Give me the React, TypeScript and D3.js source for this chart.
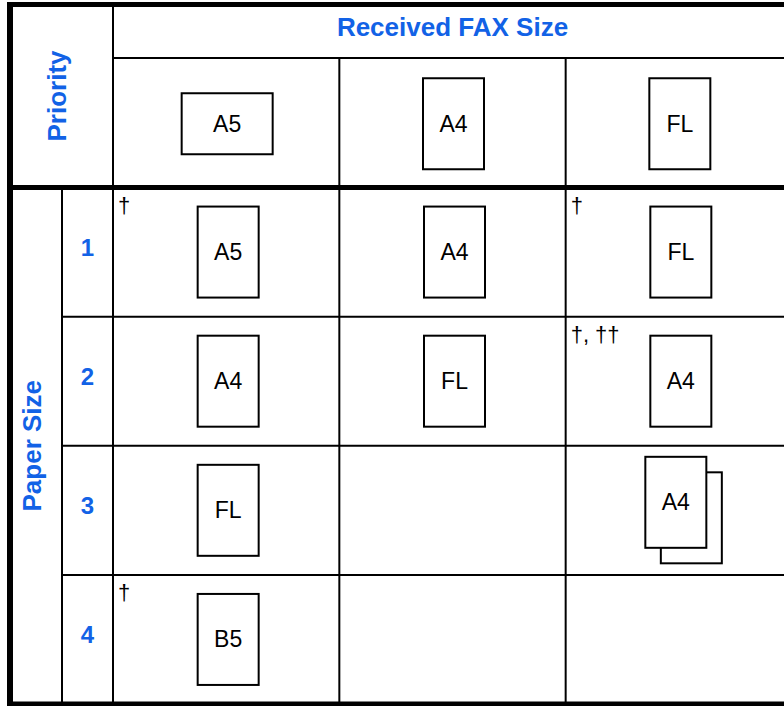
import React from 'react';
import * as d3 from 'd3';

// Received FAX size (columns) and paper priority (rows)
const faxSizes = ['A5', 'A4', 'FL'];
const priorities = ['1', '2', '3', '4'];

// paper used for each priority / fax size; '' = none, 'A4x2' = two sheets
const paperRow1 = ['A5', 'A4', 'FL'];
const paperRow2 = ['A4', 'FL', 'A4'];
const paperRow3 = ['FL', '', 'A4x2'];
const paperRow4 = ['B5', '', ''];
const paperGrid = [paperRow1, paperRow2, paperRow3, paperRow4];

// footnote marks per cell
const noteRow1 = ['†', '', '†'];
const noteRow2 = ['', '', '†, ††'];
const noteRow3 = ['', '', ''];
const noteRow4 = ['†', '', ''];
const noteGrid = [noteRow1, noteRow2, noteRow3, noteRow4];

const W = 784;
const H = 706;
const BLUE = '#1262e6';
const FONT = '"Liberation Sans", Arial, Helvetica, sans-serif';

const App = () => {
  const x = d3.scaleBand<string>().domain(faxSizes).range([113, 792]);
  const y = d3.scaleBand<string>().domain(priorities).range([187.5, 704]);

  const headTop = 4.5;
  const headMid = 58;
  const headBottom = 187.5;
  const leftEdge = 10;
  const numCol = 62;

  const cx = (s: string) => (x(s) as number) + x.bandwidth() / 2;
  const cy = (p: string) => (y(p) as number) + y.bandwidth() / 2;

  // portrait sheet 61x91, landscape 91x61
  const sheet = (key: string, xc: number, yc: number, label: string, landscape = false) => {
    const w = landscape ? 91 : 61;
    const h = landscape ? 61 : 91;
    return (
      <g key={key}>
        <rect x={xc - w / 2} y={yc - h / 2} width={w} height={h} fill="#fff" stroke="#000" strokeWidth={2} />
        <text x={xc} y={yc + 8} textAnchor="middle" fontSize={23} fontFamily={FONT} fill="#000">
          {label}
        </text>
      </g>
    );
  };

  const cells: React.ReactNode[] = [];
  paperGrid.forEach((row, i) => {
    row.forEach((paper, j) => {
      const p = priorities[i];
      const f = faxSizes[j];
      if (!paper) return;
      if (paper === 'A4x2') {
        const xc = cx(f) - 3;
        const yc = cy(p);
        cells.push(
          <rect key={`b${i}${j}`} x={xc - 15} y={yc - 38} width={61} height={91} fill="#fff" stroke="#000" strokeWidth={2} />
        );
        cells.push(sheet(`c${i}${j}`, xc, yc - 8, 'A4'));
      } else {
        cells.push(sheet(`c${i}${j}`, cx(f) + 2, cy(p), paper));
      }
    });
  });

  const notes: React.ReactNode[] = [];
  noteGrid.forEach((row, i) => {
    row.forEach((n, j) => {
      if (!n) return;
      notes.push(
        <text key={`n${i}${j}`} x={(x(faxSizes[j]) as number) + 5} y={(y(priorities[i]) as number) + 25}
          fontSize={22} fontFamily={FONT} fill="#000">
          {n}
        </text>
      );
    });
  });

  return (
    <svg width={W} height={H} style={{ position: 'absolute', left: 0, top: 0, display: 'block' }}>
      <rect width={W} height={H} fill="#fff" />

      {/* header boxes */}
      {faxSizes.map((f) => sheet(`h${f}`, cx(f) + 1, (headMid + headBottom) / 2 + 1, f, f === 'A5'))}

      {cells}
      {notes}

      {/* thin grid lines */}
      <g stroke="#000" strokeWidth={2}>
        <line x1={113} x2={W} y1={headMid} y2={headMid} />
        {faxSizes.map((f) => (
          <line key={`v${f}`} x1={x(f)} x2={x(f)} y1={f === 'A5' ? headTop : headMid} y2={704} />
        ))}
        <line x1={numCol} x2={numCol} y1={headBottom} y2={704} />
        {priorities.slice(1).map((p) => (
          <line key={`r${p}`} x1={numCol} x2={W} y1={y(p)} y2={y(p)} />
        ))}
      </g>

      {/* thick borders */}
      <g stroke="#000">
        <line x1={leftEdge - 3} x2={W} y1={headTop} y2={headTop} strokeWidth={5} />
        <line x1={leftEdge - 3} x2={W} y1={headBottom} y2={headBottom} strokeWidth={5} />
        <line x1={leftEdge - 3} x2={W} y1={704} y2={704} strokeWidth={5} />
        <line x1={leftEdge} x2={leftEdge} y1={headTop - 2.5} y2={706} strokeWidth={6} />
      </g>

      {/* blue headings */}
      <g fill={BLUE} fontFamily={FONT} fontWeight="bold">
        <text x={452.5} y={36} textAnchor="middle" fontSize={26}>Received FAX Size</text>
        <text transform={`translate(66,${(headTop + headBottom) / 2}) rotate(-90)`} textAnchor="middle" fontSize={26}>
          Priority
        </text>
        <text transform={`translate(41,${(headBottom + 704) / 2}) rotate(-90)`} textAnchor="middle" fontSize={26}>
          Paper Size
        </text>
        {priorities.map((p) => (
          <text key={`p${p}`} x={(numCol + 113) / 2} y={cy(p) + 4} textAnchor="middle" fontSize={24}>
            {p}
          </text>
        ))}
      </g>
    </svg>
  );
};

export default App;
